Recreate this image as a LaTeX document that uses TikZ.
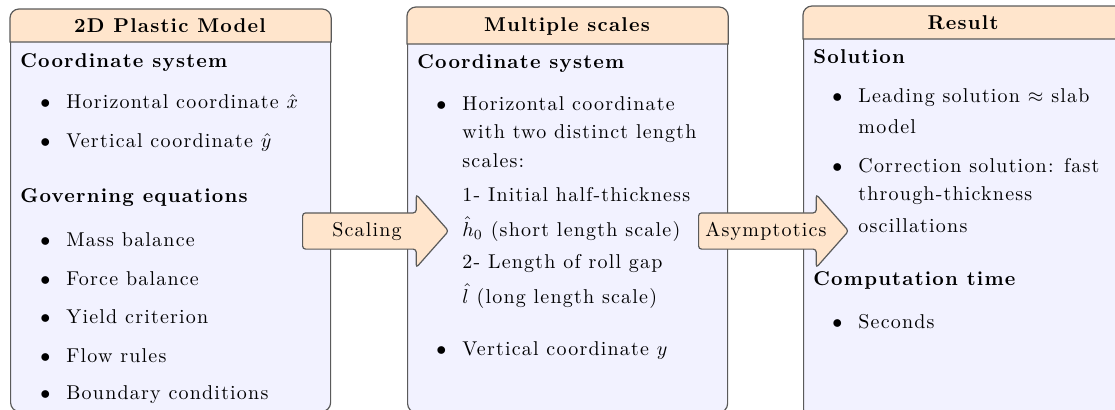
\documentclass[tikz,border=0pt]{standalone}
\usepackage{fontspec}
\setmainfont{Latin Modern Roman}[LetterSpace=6]
\usetikzlibrary{shapes.arrows}
\definecolor{hdrpeach}{RGB}{255,229,204}
\definecolor{bodylav}{RGB}{242,242,255}
\definecolor{rimgray}{RGB}{90,90,90}
\newcommand{\itembul}{\llap{$\bullet$\hspace{8pt}}}

\begin{document}
\begin{tikzpicture}[
  x=0.5pt, y=-0.5pt,
  panel/.style={rectangle,rounded corners=4.5pt,draw=rimgray,fill=bodylav,line width=0.6pt,inner sep=0pt,minimum width=160pt,anchor=north west},
  head/.style={draw=rimgray,fill=hdrpeach,line width=0.6pt},
  title/.style={anchor=base,inner sep=0pt,font=\bfseries},
  sec/.style={anchor=base west,inner sep=0pt,font=\bfseries},
  txt/.style={anchor=base west,inner sep=0pt},
  blk/.style={single arrow,draw=rimgray,fill=hdrpeach,line width=0.6pt,inner xsep=0pt,inner ysep=8.75pt,single arrow head extend=9.25pt,single arrow tip angle=97,rounded corners=1.5pt,anchor=tail},
  lbl/.style={anchor=base,inner sep=0pt}
]
\useasboundingbox (0,0) rectangle (1115,409);
\clip (0,0) rectangle (1115,409);

% 2D plastic model
\node[panel,minimum height=201pt] (model) at (10,9) {};
\filldraw[head] ([yshift=-16.5pt]model.north west) [rounded corners=4.5pt] -- (model.north west) -- (model.north east) [sharp corners] -- ([yshift=-16.5pt]model.north east) -- cycle;
\node[title] (modelhd) at (170,32) {2D Plastic Model};
\node[sec] (mcoord) at (20,67) {Coordinate system};
\node[txt] (mhor) at (66,108) {\itembul Horizontal coordinate $\hat{x}$};
\node[txt] (mver) at (66,147) {\itembul Vertical coordinate $\hat{y}$};
\node[sec] (mgov) at (20,202) {Governing equations};
\node[txt] (mmass) at (66,246) {\itembul Mass balance};
\node[txt] (mforce) at (66,285) {\itembul Force balance};
\node[txt] (myield) at (66,323) {\itembul Yield criterion};
\node[txt] (mflow) at (66,362) {\itembul Flow rules};
\node[txt] (mbound) at (66,399) {\itembul Boundary conditions};

% multiple scales
\node[panel,minimum height=202.5pt] (scales) at (407,7) {};
\filldraw[head] ([yshift=-18.5pt]scales.north west) [rounded corners=4.5pt] -- (scales.north west) -- (scales.north east) [sharp corners] -- ([yshift=-18.5pt]scales.north east) -- cycle;
\node[title] (scaleshd) at (567,31) {Multiple scales};
\node[sec] (scoord) at (417,68) {Coordinate system};
\node[txt] (shor) at (462,110) {\itembul Horizontal coordinate};
\node[txt] (swith) at (462,138) {with two distinct length};
\node[txt] (sscl) at (462,167) {scales:};
\node[txt] (sone) at (462,201) {1- Initial half-thickness};
\node[txt] (sshort) at (462,236) {$\hat{h}_0$ (short length scale)};
\node[txt] (stwo) at (462,268) {2- Length of roll gap};
\node[txt] (slong) at (462,303) {$\hat{l}$ (long length scale)};
\node[txt] (sver) at (462,355) {\itembul Vertical coordinate $y$};

% result
\node[panel,minimum height=206pt] (result) at (803,6) {};
\filldraw[head] ([yshift=-16.5pt]result.north west) [rounded corners=4.5pt] -- (result.north west) -- (result.north east) [sharp corners] -- ([yshift=-16.5pt]result.north east) -- cycle;
\node[title] (resulthd) at (963,29) {Result};
\node[sec] (rsol) at (813,63) {Solution};
\node[txt] (rlead) at (858,102) {\itembul Leading solution $\approx$ slab};
\node[txt] (rmodel) at (858,133) {model};
\node[txt] (rcorr) at (858,172) {\itembul Correction solution: fast};
\node[txt] (rthru) at (858,200) {through-thickness};
\node[txt] (rosc) at (858,232) {oscillations};
\node[sec] (rtime) at (813,285) {Computation time};
\node[txt] (rsec) at (858,328) {\itembul Seconds};

% block arrows
\node[blk,minimum height=73pt] (scaling) at (302,231) {};
\node[lbl] (scalingtx) at (367,236) {Scaling};
\node[blk,minimum height=75pt] (asym) at (698,231) {};
\node[lbl] (asymtx) at (766,236) {Asymptotics};
\end{tikzpicture}
\end{document}
